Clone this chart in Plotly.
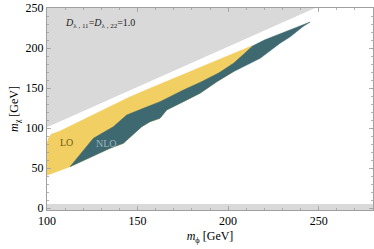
import plotly.graph_objects as go

# Excluded region (m_chi > m_phi), light gray
excl_mphi = [100, 248, 280, 280, 100]
excl_mchi = [101, 250, 250, 250, 250]

# Bottom excluded strip
strip_mphi = [100, 280, 280, 100]
strip_mchi = [-2.5, -2.5, 5, 5]

# LO region outer edge (yellow): from NLO corner, along bottom, up left side, along top to merge
lo_edge_mphi = [112.7, 100, 100, 101.0, 102.5, 106.6, 125.0, 145.9, 156.9, 180.0, 200.0, 213.5]
lo_edge_mchi = [51.6, 41, 81, 88.0, 92.5, 95.5, 116.0, 139.1, 149.6, 171.0, 190.0, 203.0]

# NLO region (dark teal) boundaries
nlo_upper_mphi = [112.7, 125.6, 136.6, 144.0, 153.2, 162.4, 175.3, 185.0, 195.0, 203.0,
                  209.0, 213.5, 220.0, 230.0, 240.0, 245.3]
nlo_upper_mchi = [51.6, 87.1, 101.6, 116.3, 124.6, 132.9, 147.5, 157.5, 169.0, 181.0,
                  193.0, 202.5, 210.0, 219.0, 228.0, 232.5]
nlo_lower_mphi = [112.7, 134.8, 142.2, 152.3, 156.9, 162.4, 166.1, 175.3, 184.5, 193.8, 202.9,
                  212.2, 217.7, 228.7, 234.3, 241.4, 245.3]
nlo_lower_mchi = [51.6, 74.6, 80.9, 101.6, 107.9, 112.1, 122.5, 132.9, 143.4, 157.9, 170.4,
                  180.9, 187.1, 206.0, 214.0, 227.0, 232.5]

x_ticks = [100, 150, 200, 250]
y_ticks = [0, 50, 100, 150, 200, 250]

GRAY = "#d9d9d9"
YELLOW = "#f2cf62"
TEAL = "#3e6971"
SERIF = "Liberation Serif, Times New Roman, serif"

fig = go.Figure()

fig.add_trace(go.Scatter(x=excl_mphi, y=excl_mchi, fill="toself", fillcolor=GRAY,
                         line=dict(width=0), mode="lines", hoverinfo="skip", showlegend=False))
fig.add_trace(go.Scatter(x=strip_mphi, y=strip_mchi, fill="toself", fillcolor=GRAY,
                         line=dict(width=0), mode="lines", hoverinfo="skip", showlegend=False))

# LO polygon closes back along the NLO lower edge (hidden under NLO)
lo_close_mphi = [p for p in nlo_lower_mphi if p <= 205][::-1]
lo_close_mchi = [c for p, c in zip(nlo_lower_mphi, nlo_lower_mchi) if p <= 205][::-1]
fig.add_trace(go.Scatter(x=lo_edge_mphi + lo_close_mphi, y=lo_edge_mchi + lo_close_mchi,
                         fill="toself", fillcolor=YELLOW, line=dict(width=0.5, color=YELLOW),
                         mode="lines", hoverinfo="skip", showlegend=False, name="LO"))

fig.add_trace(go.Scatter(x=nlo_upper_mphi + nlo_lower_mphi[::-1],
                         y=nlo_upper_mchi + nlo_lower_mchi[::-1],
                         fill="toself", fillcolor=TEAL, line=dict(width=0.5, color=TEAL),
                         mode="lines", hoverinfo="skip", showlegend=False, name="NLO"))

fig.add_annotation(x=110.5, y=82, text="LO", showarrow=False,
                   font=dict(family=SERIF, size=10, color="#6e5a1c"))
fig.add_annotation(x=133, y=81, text="NLO", showarrow=False,
                   font=dict(family=SERIF, size=10, color="#9fb3bd"))
fig.add_annotation(x=109, y=231, xanchor="left",
                   text="<i>D</i><sub>λ , 11</sub>=<i>D</i><sub>λ , 22</sub>=1.0",
                   showarrow=False, font=dict(family=SERIF, size=10, color="#222222"))

axis_common = dict(
    showgrid=False, zeroline=False, showline=True, linecolor="#a0a0a0", linewidth=1,
    mirror="ticks", ticks="inside", ticklen=4, tickcolor="#a0a0a0", tickwidth=0.8,
    minor=dict(ticks="inside", ticklen=2, dtick=10, tickcolor="#a0a0a0", tickwidth=0.8),
    tickfont=dict(family=SERIF, size=12, color="black"), layer="above traces",
)

fig.update_xaxes(range=[100, 280], tickvals=x_ticks, ticktext=[str(v) for v in x_ticks],
                 title=dict(text="<i>m</i><sub>ϕ</sub> [GeV]", font=dict(family=SERIF, size=12, color="black"),
                            standoff=4),
                 **axis_common)
fig.update_yaxes(range=[-2.5, 250], tickvals=y_ticks, ticktext=[str(v) for v in y_ticks],
                 title=dict(text="<i>m</i><sub>χ</sub> [GeV]", font=dict(family=SERIF, size=12, color="black"),
                            standoff=4),
                 **axis_common)

fig.update_layout(width=374, height=249, margin=dict(l=47, r=1, t=8, b=39),
                  plot_bgcolor="white", paper_bgcolor="white", showlegend=False)

fig.write_html("out.html", config={"displayModeBar": False, "staticPlot": True})

# remove default page margins so the figure sits at the window's top-left corner
with open("out.html", "r", encoding="utf-8") as f:
    html = f.read()
html = html.replace("<head>", "<head><style>html,body{margin:0;padding:0;overflow:hidden;}</style>", 1)
with open("out.html", "w", encoding="utf-8") as f:
    f.write(html)
